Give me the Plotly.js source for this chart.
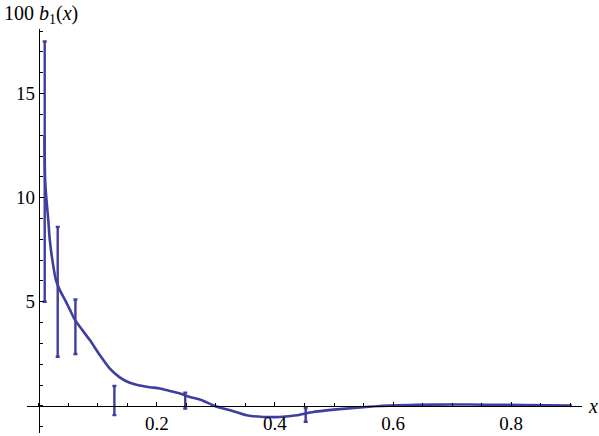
<!DOCTYPE html>
<html>
<head>
<meta charset="utf-8">
<script src="https://cdn.plot.ly/plotly-3.0.1.min.js"></script>
<style>
  html, body { margin: 0; padding: 0; background: #fff; }
  #chart { width: 599px; height: 436px; }
</style>
</head>
<body>
<div id="chart"></div>
<script>
// fitted curve
const curveX = [0.0095, 0.0107, 0.013, 0.016, 0.0186, 0.023, 0.029, 0.0356, 0.0446, 0.053, 0.0615, 0.0864, 0.1034, 0.120, 0.137, 0.154, 0.171, 0.188, 0.205, 0.222, 0.239, 0.256, 0.273, 0.298, 0.324, 0.352, 0.380, 0.408, 0.437, 0.465, 0.520, 0.578, 0.640, 0.700, 0.760, 0.820, 0.903];
const curveY = [13.0, 10.85, 9.89, 8.93, 7.97, 7.0, 6.04, 5.56, 5.08, 4.6, 4.12, 3.16, 2.44, 1.80, 1.37, 1.11, 0.98, 0.90, 0.84, 0.72, 0.60, 0.43, 0.31, 0.0, -0.21, -0.45, -0.53, -0.53, -0.45, -0.29, -0.13, 0.0, 0.05, 0.07, 0.06, 0.04, 0.02];

// data points with error bars
const barX = [0.010, 0.032, 0.062, 0.128, 0.248, 0.452];
const barY = [11.25, 5.48, 3.8, 0.26, 0.26, -0.43];
const barErr = [6.25, 3.12, 1.31, 0.70, 0.38, 0.33];

// tick labels
const xTicks = [0.2, 0.4, 0.6, 0.8];
const yTicks = [5, 10, 15];

const blue = 'rgb(62,62,160)';
const serif = 'Times New Roman, Liberation Serif, DejaVu Serif, serif';
const xRange = [-0.02, 0.92];
const yRange = [-1.3, 18.1];

const plotData = [
  {
    x: curveX,
    y: curveY,
    type: 'scatter',
    mode: 'lines',
    line: { color: blue, width: 2.6, shape: 'spline', smoothing: 0.6 },
    hoverinfo: 'skip',
  },
  {
    x: barX,
    y: barY,
    type: 'scatter',
    mode: 'markers',
    marker: { size: 1, color: blue, opacity: 0 },
    error_y: { type: 'data', array: barErr, visible: true, color: blue, thickness: 2.4, width: 2 },
  },
];

const layout = {
  width: 599,
  height: 436,
  margin: { l: 27, r: 17, t: 29, b: 3 },
  showlegend: false,
  plot_bgcolor: '#fff',
  paper_bgcolor: '#fff',
  font: { family: serif, size: 19, color: '#000' },
  xaxis: {
    range: xRange,
    anchor: 'free',
    position: (0 - yRange[0]) / (yRange[1] - yRange[0]),
    showgrid: false,
    zeroline: false,
    showline: true,
    linecolor: '#000',
    linewidth: 1.2,
    tickmode: 'array',
    tickvals: xTicks,
    ticktext: xTicks.map(v => v.toFixed(1)),
    tickfont: { family: serif, size: 19 },
    ticks: 'inside',
    ticklen: 4,
    tickcolor: '#000',
    minor: { dtick: 0.05, tick0: 0, ticks: 'inside', ticklen: 2.5, tickcolor: '#000' },
  },
  yaxis: {
    range: yRange,
    anchor: 'free',
    position: (0 - xRange[0]) / (xRange[1] - xRange[0]),
    showgrid: false,
    zeroline: false,
    showline: true,
    linecolor: '#000',
    linewidth: 1.2,
    tickmode: 'array',
    tickvals: yTicks,
    tickfont: { family: serif, size: 19 },
    ticks: 'inside',
    ticklen: 4,
    tickcolor: '#000',
    minor: { dtick: 1, tick0: 0, ticks: 'inside', ticklen: 2.5, tickcolor: '#000' },
  },
  annotations: [
    {
      xref: 'paper', yref: 'paper', x: -0.045, y: 1.0,
      xanchor: 'left', yanchor: 'bottom',
      text: '100 <i>b</i><sub>1</sub>(<i>x</i>)',
      showarrow: false,
      font: { family: serif, size: 20 },
    },
    {
      xref: 'paper', yref: 'y', x: 1.0, y: 0,
      xanchor: 'left', yanchor: 'middle', xshift: 4,
      text: '<i>x</i>',
      showarrow: false,
      font: { family: serif, size: 20 },
    },
  ],
};

Plotly.newPlot('chart', plotData, layout, { staticPlot: true });
</script>
</body>
</html>
